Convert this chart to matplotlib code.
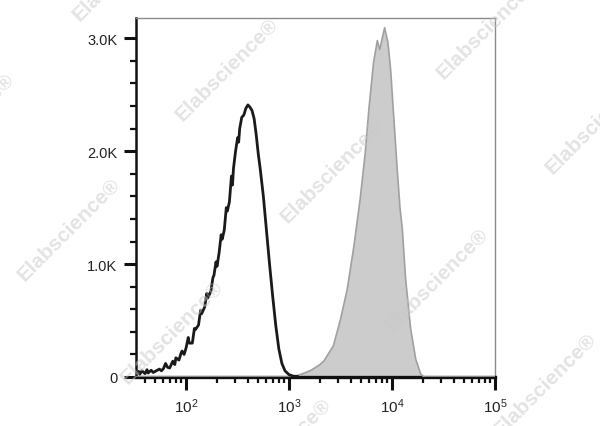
import numpy as np
import matplotlib
matplotlib.use("Agg")
import matplotlib.pyplot as plt
from matplotlib.ticker import FixedLocator, FuncFormatter, LogLocator, NullFormatter

plt.rcParams['font.family'] = ['Liberation Sans', 'DejaVu Sans']

# ---- data (log10 of fluorescence intensity, event count) ----
black_log = [1.52, 1.54, 1.55, 1.57, 1.60, 1.62, 1.63, 1.66, 1.68, 1.70, 1.74, 1.76, 1.78,
             1.80, 1.82, 1.84, 1.87, 1.89, 1.90, 1.93, 1.95, 1.96, 1.98, 2.00, 2.02, 2.03,
             2.06, 2.08, 2.09, 2.12, 2.14, 2.15, 2.18, 2.20, 2.21, 2.24, 2.26, 2.27, 2.29,
             2.30, 2.32, 2.34, 2.35, 2.37, 2.39, 2.40, 2.42, 2.44, 2.45, 2.46, 2.48, 2.50,
             2.51, 2.52, 2.54, 2.56, 2.58, 2.60, 2.62, 2.64, 2.66, 2.68, 2.70, 2.72, 2.75,
             2.78, 2.81, 2.84, 2.87, 2.90, 2.93, 2.96, 3.00, 3.04, 3.08]
black_cnt = [20, 50, 25, 55, 30, 65, 35, 60, 40, 50, 70, 55, 75,
             120, 85, 80, 140, 110, 170, 150, 210, 230, 200, 260, 350, 300,
             300, 430, 420, 460, 590, 560, 620, 740, 700, 760, 880, 900, 1020,
             980, 1100, 1260, 1220, 1300, 1500, 1470, 1550, 1780, 1700, 1850, 2000, 2120,
             2080, 2200, 2300, 2320, 2380, 2410, 2390, 2360, 2290, 2150, 1980, 1840, 1600,
             1300, 1000, 720, 460, 250, 120, 55, 20, 8, 5]

gray_log = [1.50, 3.00, 3.05, 3.12, 3.21, 3.30, 3.34, 3.43, 3.50, 3.565, 3.63, 3.69, 3.74,
            3.775, 3.82, 3.857, 3.88, 3.928, 3.96, 3.986, 4.018, 4.05, 4.077, 4.10, 4.132,
            4.181, 4.23, 4.278, 4.31, 5.0]
gray_cnt = [0, 0, 5, 25, 58, 110, 144, 277, 513, 779, 1162, 1575, 1988,
            2372, 2785, 2980, 2900, 3094, 2962, 2726, 2283, 1841, 1500, 1310, 867,
            425, 159, 27, 0, 0]

y_ticks = [0, 1000, 2000, 3000]
y_tick_labels = ['0', '1.0K', '2.0K', '3.0K']
x_major = [1e2, 1e3, 1e4, 1e5]

watermarks = [(124, -30), (227, 70), (332, 172), (437, 280), (545, 385),
              (-37, 125), (69, 230), (172, 333), (280, 450), (488, 28), (597, 123)]

fig = plt.figure(figsize=(6.0, 4.27), dpi=100)
ax = fig.add_axes([135.5 / 600, 1 - 378 / 427, (495 - 135.5) / 600, (378 - 19) / 427])

gx = 10 ** np.array(gray_log)
bx = 10 ** np.array(black_log)
ax.fill_between(gx, 0, gray_cnt, facecolor='#cccccc', edgecolor='none', zorder=2)
ax.plot(gx, gray_cnt, color='#a0a0a0', lw=1.2, zorder=3)
ax.plot(bx, black_cnt, color='#1a1a1a', lw=2.0, zorder=4)

ax.set_xscale('log')
ax.set_xlim(10 ** 1.508, 1e5)
ax.set_ylim(0, 3180)

ax.xaxis.set_major_locator(FixedLocator(x_major))
ax.xaxis.set_major_formatter(FuncFormatter(lambda v, p: r'$\mathregular{10^{%d}}$' % round(np.log10(v))))
ax.xaxis.set_minor_locator(LogLocator(base=10, subs=np.arange(2, 10), numticks=20))
ax.xaxis.set_minor_formatter(NullFormatter())

ax.yaxis.set_major_locator(FixedLocator(y_ticks))
ax.set_yticklabels(y_tick_labels)
ax.yaxis.set_minor_locator(FixedLocator(np.arange(200, 3200, 200)))

ax.tick_params(axis='both', which='major', direction='out', length=9, width=2.2,
               color='#111111', labelsize=10.5, labelcolor='#222222')
ax.tick_params(axis='both', which='minor', direction='out', length=4.5, width=1.6, color='#111111')
ax.tick_params(axis='y', which='major', pad=4)
ax.tick_params(axis='x', which='major', pad=5, labelsize=11)

for s in ['top', 'right']:
    ax.spines[s].set_color('#8a8a8a')
    ax.spines[s].set_linewidth(1.0)
ax.spines['left'].set_color('#111111')
ax.spines['left'].set_linewidth(1.8)
ax.spines['bottom'].set_color('#111111')
ax.spines['bottom'].set_linewidth(2.4)

for (px, py) in watermarks:
    fig.text(px / 600, 1 - py / 427, 'Elabscience\u00ae', rotation=45, ha='center', va='center',
             rotation_mode='anchor', fontsize=15, fontweight='bold', color='#c8c8c8',
             alpha=0.5, zorder=10)

fig.savefig('out.png', dpi=100)
